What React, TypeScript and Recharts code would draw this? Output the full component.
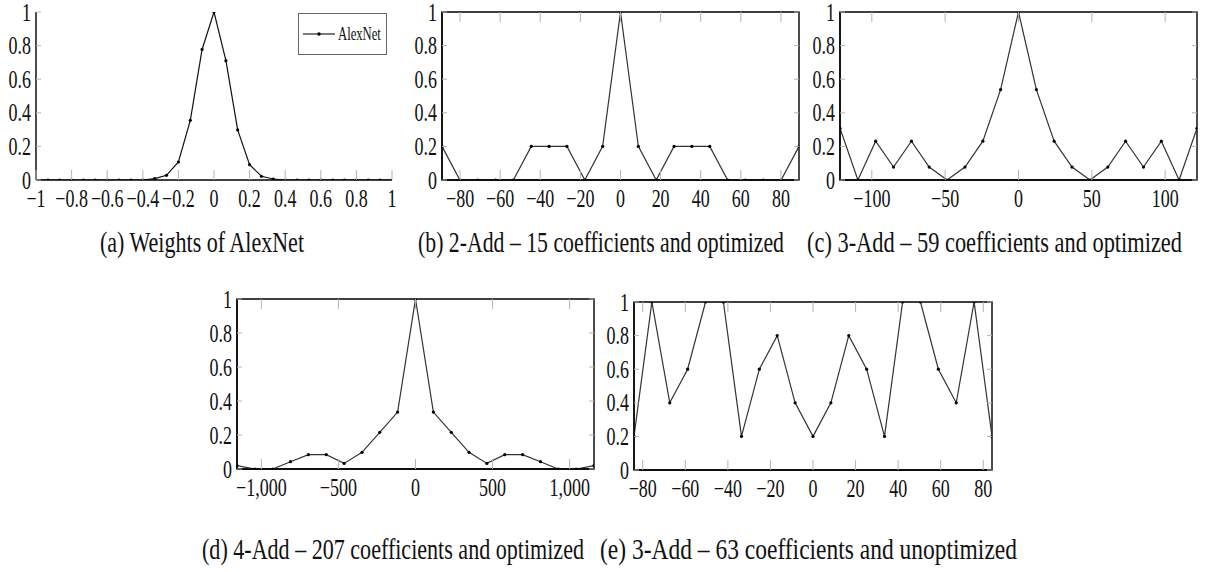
import React from 'react';
import { LineChart, Line, XAxis, YAxis, ReferenceArea, Legend } from 'recharts';

// (a) AlexNet weight distribution
const alexnetX = [
  -1, -0.933, -0.867, -0.8, -0.733, -0.667, -0.6, -0.533, -0.467, -0.4,
  -0.333, -0.267, -0.2, -0.133, -0.067, 0, 0.067, 0.133, 0.2, 0.267, 0.333,
  0.4, 0.467, 0.533, 0.6, 0.667, 0.733, 0.8, 0.867, 0.933, 1,
];
const alexnetY = [
  0, 0, 0, 0, 0, 0, 0, 0, 0, 0,
  0.008, 0.028, 0.107, 0.355, 0.777, 1, 0.71, 0.298, 0.091, 0.022, 0.006,
  0, 0, 0, 0, 0, 0, 0, 0, 0, 0,
];

// (b) 2-Add, 15 coefficients, optimized
const add2X = [-89, -80.1, -71.2, -62.3, -53.4, -44.5, -35.6, -26.7, -17.8, -8.9, 0, 8.9, 17.8, 26.7, 35.6, 44.5, 53.4, 62.3, 71.2, 80.1, 89];
const add2Y = [0.2, 0, 0, 0, 0, 0.2, 0.2, 0.2, 0, 0.2, 1, 0.2, 0, 0.2, 0.2, 0.2, 0, 0, 0, 0, 0.2];

// (c) 3-Add, 59 coefficients, optimized
const add3X = [-121.7, -109.5, -97.4, -85.2, -73, -60.9, -48.7, -36.5, -24.3, -12.2, 0, 12.2, 24.3, 36.5, 48.7, 60.9, 73, 85.2, 97.4, 109.5, 121.7];
const add3Y = [0.308, 0, 0.231, 0.077, 0.231, 0.077, 0, 0.077, 0.231, 0.538, 1, 0.538, 0.231, 0.077, 0, 0.077, 0.231, 0.077, 0.231, 0, 0.308];

// (d) 4-Add, 207 coefficients, optimized
const add4X = [-1158, -1042, -926, -811, -695, -579, -463, -347, -232, -116, 0, 116, 232, 347, 463, 579, 695, 811, 926, 1042, 1158];
const add4Y = [0.02, 0, 0, 0.043, 0.084, 0.084, 0.033, 0.098, 0.216, 0.335, 1, 0.335, 0.216, 0.098, 0.033, 0.084, 0.084, 0.043, 0, 0, 0.02];

// (e) 3-Add, 63 coefficients, unoptimized
const add3uX = [-84.1, -75.7, -67.3, -58.9, -50.5, -42.1, -33.6, -25.2, -16.8, -8.4, 0, 8.4, 16.8, 25.2, 33.6, 42.1, 50.5, 58.9, 67.3, 75.7, 84.1];
const add3uY = [0.2, 1, 0.4, 0.6, 1, 1, 0.2, 0.6, 0.8, 0.4, 0.2, 0.4, 0.8, 0.6, 0.2, 1, 1, 0.6, 0.4, 1, 0.2];

// Axis ticks
const yTicks = [0, 0.2, 0.4, 0.6, 0.8, 1];
const ticksA = [-1, -0.8, -0.6, -0.4, -0.2, 0, 0.2, 0.4, 0.6, 0.8, 1];
const ticksB = [-80, -60, -40, -20, 0, 20, 40, 60, 80];
const ticksC = [-100, -50, 0, 50, 100];
const ticksD = [-1000, -500, 0, 500, 1000];
const ticksE = [-80, -60, -40, -20, 0, 20, 40, 60, 80];

// Captions
const captionA = '(a) Weights of AlexNet';
const captionB = '(b) 2-Add \u2013 15 coefficients and optimized';
const captionC = '(c) 3-Add \u2013 59 coefficients and optimized';
const captionD = '(d) 4-Add \u2013 207 coefficients and optimized';
const captionE = '(e) 3-Add \u2013 63 coefficients and unoptimized';

const FONT = '"Liberation Serif", "Times New Roman", serif';
const SQUASH = 0.72;
const CAPTION_SQUASH = 0.74;
const TICK_GRAY = '#b4b4b4';
const Y_AXIS_W = 40;
const X_AXIS_H = 40;
const M_TOP = 12;
const M_RIGHT = 12;

const fmtNum = (v: number) => {
  const a = Math.abs(v);
  const s = a >= 1000 ? a.toLocaleString('en-US') : String(a);
  return (v < 0 ? '\u2212' : '') + s;
};

const makeXTick = (plotH: number, boxed: boolean) => (props: any) => {
  const { x, y, payload } = props;
  return (
    <g>
      <line x1={x} x2={x} y1={y} y2={y - 10} stroke={TICK_GRAY} strokeWidth={1} />
      {boxed && <line x1={x} x2={x} y1={y - plotH} y2={y - plotH + 10} stroke={TICK_GRAY} strokeWidth={1} />}
      <text
        transform={`translate(${x},${y + 27}) scale(${SQUASH},1)`}
        textAnchor="middle"
        fontFamily={FONT}
        fontSize={25}
        fill="#111"
      >
        {fmtNum(payload.value)}
      </text>
    </g>
  );
};

const makeYTick = (plotW: number, boxed: boolean) => (props: any) => {
  const { x, y, payload } = props;
  return (
    <g>
      <line x1={x} x2={x + 5} y1={y} y2={y} stroke={TICK_GRAY} strokeWidth={1} />
      {boxed && <line x1={x + plotW} x2={x + plotW - 5} y1={y} y2={y} stroke={TICK_GRAY} strokeWidth={1} />}
      <text
        transform={`translate(${x - 5},${y + 8.5}) scale(${SQUASH},1)`}
        textAnchor="end"
        fontFamily={FONT}
        fontSize={25}
        fill="#111"
      >
        {fmtNum(payload.value)}
      </text>
    </g>
  );
};

const LegendBox = (props: any) => {
  const item = (props.payload || [])[0];
  const name = item ? item.value : '';
  return (
    <svg width={89} height={42} style={{ display: 'block' }}>
      <rect x={0.5} y={0.5} width={88} height={41} fill="#fff" stroke="#666" strokeWidth={1} />
      <line x1={5} x2={37} y1={21} y2={21} stroke="#222" strokeWidth={1.2} />
      <circle cx={21} cy={21} r={1.7} fill="#000" />
      <text
        transform={`translate(40,27) scale(0.78,1)`}
        fontFamily={FONT}
        fontSize={19}
        fill="#111"
        textLength={55}
        lengthAdjust="spacingAndGlyphs"
      >
        {name}
      </text>
    </svg>
  );
};

type PanelProps = {
  xs: number[];
  ys: number[];
  ticks: number[];
  domain: [number, number];
  box: { left: number; top: number; right: number; bottom: number };
  boxed: boolean;
  name?: string;
  showLegend?: boolean;
};

const Panel = ({ xs, ys, ticks, domain, box, boxed, name, showLegend }: PanelProps) => {
  const plotW = box.right - box.left;
  const plotH = box.bottom - box.top;
  const width = plotW + Y_AXIS_W + M_RIGHT;
  const height = plotH + M_TOP + X_AXIS_H;
  const data = xs.map((x, i) => ({ x, y: ys[i] }));
  const stroke = boxed ? '#333' : '#111';
  return (
    <div style={{ position: 'absolute', left: box.left - Y_AXIS_W, top: box.top - M_TOP, width, height }}>
      <LineChart width={width} height={height} data={data} margin={{ top: M_TOP, right: M_RIGHT, left: 0, bottom: 0 }}>
        <XAxis
          dataKey="x"
          type="number"
          domain={domain}
          ticks={ticks}
          interval={0}
          allowDataOverflow
          height={X_AXIS_H}
          tickSize={0}
          tickMargin={0}
          tickLine={false}
          axisLine={{ stroke: '#000', strokeWidth: 1.4 }}
          tick={makeXTick(plotH, boxed)}
        />
        <YAxis
          type="number"
          domain={[0, 1]}
          ticks={yTicks}
          interval={0}
          allowDataOverflow
          width={Y_AXIS_W}
          tickSize={0}
          tickMargin={0}
          tickLine={false}
          axisLine={{ stroke: '#000', strokeWidth: 1.4 }}
          tick={makeYTick(plotW, boxed)}
        />
        {boxed && (
          <ReferenceArea
            x1={domain[0]}
            x2={domain[1]}
            y1={0}
            y2={1}
            fill="none"
            fillOpacity={0}
            stroke="#000"
            strokeWidth={1.4}
            ifOverflow="visible"
          />
        )}
        <Line
          type="linear"
          dataKey="y"
          name={name}
          stroke={stroke}
          strokeWidth={1.2}
          dot={{ r: 1.6, fill: '#000', stroke: 'none' }}
          activeDot={false}
          isAnimationActive={false}
        />
        {showLegend && (
          <Legend
            layout="horizontal"
            verticalAlign="middle"
            align="center"
            content={LegendBox}
            wrapperStyle={{ position: 'absolute', left: 298 - (box.left - Y_AXIS_W), top: 13 - (box.top - M_TOP), width: 89, height: 42 }}
          />
        )}
      </LineChart>
    </div>
  );
};

const Caption = ({ x, y, w, text }: { x: number; y: number; w: number; text: string }) => (
  <text
    transform={`translate(${x},${y}) scale(${CAPTION_SQUASH},1)`}
    fontFamily={FONT}
    fontSize={29}
    fill="#111"
    textLength={w / CAPTION_SQUASH}
    lengthAdjust="spacingAndGlyphs"
  >
    {text}
  </text>
);

export default function App() {
  return (
    <div style={{ position: 'absolute', left: 0, top: 0, width: 1211, height: 572, background: '#fff', overflow: 'hidden' }}>
      <Panel xs={alexnetX} ys={alexnetY} ticks={ticksA} domain={[-1, 1]} box={{ left: 36, top: 12, right: 392, bottom: 180 }} boxed={false} name="AlexNet" showLegend />
      <Panel xs={add2X} ys={add2Y} ticks={ticksB} domain={[-89, 89]} box={{ left: 442, top: 12, right: 799, bottom: 180 }} boxed />
      <Panel xs={add3X} ys={add3Y} ticks={ticksC} domain={[-121.7, 121.7]} box={{ left: 840, top: 12, right: 1197, bottom: 180 }} boxed />
      <Panel xs={add4X} ys={add4Y} ticks={ticksD} domain={[-1158, 1158]} box={{ left: 237, top: 299, right: 594, bottom: 469 }} boxed />
      <Panel xs={add3uX} ys={add3uY} ticks={ticksE} domain={[-84.1, 84.1]} box={{ left: 634, top: 302, right: 992, bottom: 470 }} boxed />
      <svg width={1211} height={572} style={{ position: 'absolute', left: 0, top: 0, pointerEvents: 'none' }}>
        <Caption x={100} y={252} w={204} text={captionA} />
        <Caption x={418} y={252} w={366} text={captionB} />
        <Caption x={807} y={252} w={375} text={captionC} />
        <Caption x={202} y={559} w={382} text={captionD} />
        <Caption x={600} y={559} w={417} text={captionE} />
      </svg>
    </div>
  );
}
